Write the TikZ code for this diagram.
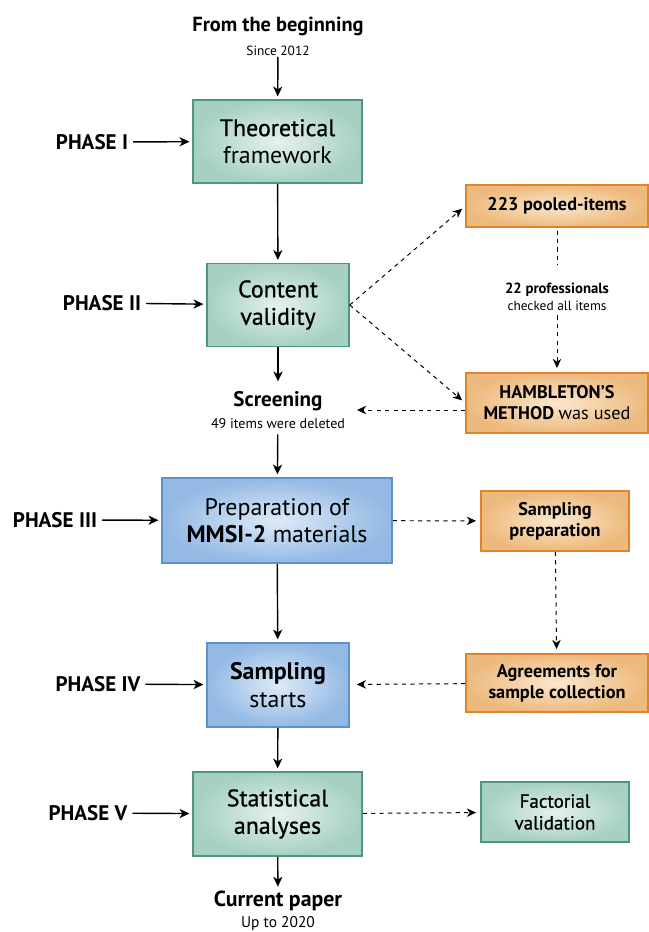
\documentclass[tikz,border=0pt]{standalone}
\usepackage{fontspec}
\setmainfont{PT Sans}
\newfontfamily\semifont[FakeBold=0.8]{PT Sans}
\usetikzlibrary{positioning, shapes, arrows, arrows.meta, calc}
\definecolor{tealEdge}{HTML}{4F9484}
\definecolor{tealOut}{HTML}{A6D0C2}
\definecolor{tealIn}{HTML}{E4F2ED}
\definecolor{blueEdge}{HTML}{5E92CF}
\definecolor{blueOut}{HTML}{93B9E4}
\definecolor{blueIn}{HTML}{DDEAF8}
\definecolor{orangeEdge}{HTML}{E2822A}
\definecolor{orangeOut}{HTML}{EDBA7E}
\definecolor{orangeIn}{HTML}{FBE7CD}
\tikzset{
	boxSize/.style 2 args={minimum width=#1*0.025cm, minimum height=#2*0.025cm, inner sep=0pt},
	tealBox/.style={draw=tealEdge, line width=1.1pt, shading=radial, inner color=tealIn, outer color=tealOut, align=center, font=\fontsize{17}{19.5}\selectfont},
	blueBox/.style={draw=blueEdge, line width=1.1pt, shading=radial, inner color=blueIn, outer color=blueOut, align=center, font=\fontsize{17}{19.5}\selectfont},
	sideBox/.style={draw=orangeEdge, line width=1.1pt, shading=radial, inner color=orangeIn, outer color=orangeOut, align=center, font=\bfseries\fontsize{13}{15}\selectfont},
	sideTeal/.style={tealBox, font=\semifont\fontsize{13.5}{15.5}\selectfont},
	phase/.style={font=\bfseries\fontsize{15}{17}\selectfont},
	milestone/.style={align=center, inner sep=1pt},
	flow/.style={line width=1pt, -{Stealth[length=7pt, width=6.5pt, inset=2pt]}, shorten >=2pt},
	dashFlow/.style={dashed, line width=.7pt, -{Stealth[length=6.5pt, width=6pt, inset=2pt]}, shorten >=3pt},
	dashLine/.style={dashed, line width=.7pt}
}

\begin{document}
\begin{tikzpicture}[x=0.025cm, y=-0.025cm]
\useasboundingbox (0,0) rectangle (649,932);
% main column
\node [milestone] (start) at (278,36) {{\bfseries\fontsize{14.5}{16}\selectfont From the beginning}\\[5pt]{\fontsize{9.5}{11}\selectfont Since 2012}};
\node [tealBox, boxSize={169}{83}] (theory) at (277.5,141.5) {{\semifont Theoretical}\\framework};
\node [tealBox, boxSize={142}{83}] (content) at (278,305) {\semifont Content\\\semifont validity};
\node [milestone] (screen) at (278,410) {{\bfseries\fontsize{15}{17}\selectfont Screening}\\[3.5pt]{\fontsize{10}{12}\selectfont 49 items were deleted}};
\node [blueBox, boxSize={230}{85}] (prep) at (277,520.5) {Preparation of\\\textbf{MMSI-2} materials};
\node [blueBox, boxSize={142}{84}] (sampling) at (278,685) {\textbf{Sampling}\\starts};
\node [tealBox, boxSize={169}{84}] (stats) at (277.5,814) {\semifont Statistical\\\semifont analyses};
\node [milestone] (paper) at (278,911) {{\bfseries\fontsize{15.5}{17}\selectfont Current paper}\\[3pt]{\fontsize{11}{12}\selectfont Up to 2020}};
\coordinate (screenIn) at (357,410);

% phases
\node [phase] (p1) at (92,142) {PHASE I};
\node [phase] (p2) at (102,303) {PHASE II};
\node [phase] (p3) at (55,520) {PHASE III};
\node [phase] (p4) at (98,684) {PHASE IV};
\node [phase] (p5) at (88,813) {PHASE V};

% side column
\node [sideBox, boxSize={182}{42}] (pooled) at (557,206) {223 pooled-items};
\node [milestone] (experts) at (557,297) {{\bfseries\fontsize{10.5}{12.5}\selectfont 22 professionals}\\{\fontsize{9.5}{11.5}\selectfont checked all items}};
\node [sideBox, boxSize={182}{60}] (hamb) at (557,403) {HAMBLETON'S\\METHOD {\mdseries was used}};
\node [sideBox, boxSize={148}{60}] (sprep) at (555,521) {Sampling\\preparation};
\node [sideBox, boxSize={182}{58}] (agree) at (557,683) {Agreements for\\sample collection};
\node [sideTeal, boxSize={148}{60}] (factor) at (555,812) {Factorial\\validation};

\draw [flow] (start) -- (theory);
\draw [flow] (theory) -- (content);
\draw [flow, shorten >=6pt] (content) -- (screen);
\draw [flow, shorten <=3pt] (screen) -- (prep);
\draw [flow] (prep) -- (sampling);
\draw [flow] (sampling) -- (stats);
\draw [flow] (stats) -- (paper);

\draw [flow] (p1) -- (theory);
\draw [flow] (p2) -- (content);
\draw [flow] (p3) -- (prep);
\draw [flow] (p4) -- (sampling);
\draw [flow] (p5) -- (stats);

\draw [dashFlow] (content.east) -- (pooled.west);
\draw [dashFlow] (content.east) -- (hamb.west);
\draw [dashLine, shorten <=2pt, shorten >=12pt] (pooled) -- (experts);
\draw [dashFlow, shorten <=2pt] (experts) -- (hamb);
\draw [dashFlow, shorten >=0pt] ($(hamb.west)+(0,7)$) -- (screenIn);
\draw [dashFlow] (prep) -- (sprep);
\draw [dashFlow] (sprep) -- (agree);
\draw [dashFlow, shorten >=5pt] (agree) -- (sampling);
\draw [dashFlow] (stats) -- (factor);
\end{tikzpicture}
\end{document}
